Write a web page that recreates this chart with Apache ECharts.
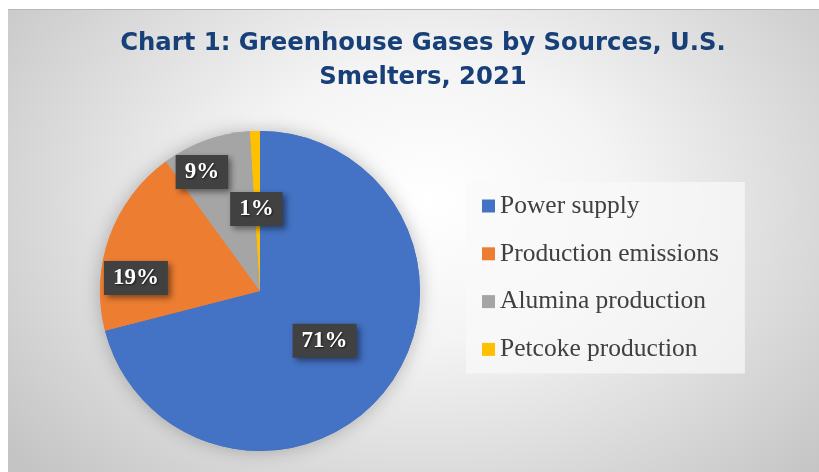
<!DOCTYPE html>
<html>
<head>
<meta charset="utf-8">
<script src="https://cdn.jsdelivr.net/npm/echarts@6/dist/echarts.min.js"></script>
<style>
  html, body { margin: 0; padding: 0; background: #ffffff; }
  #wrap { position: absolute; left: 8px; top: 9px; width: 811px; height: 463px;
    border-top: 1px solid #b8b8b8; box-sizing: border-box;
    background: radial-gradient(ellipse 540px 400px at 420px 190px, #ffffff 0%, #f4f4f4 35%, #c4c4c4 100%); }
  #chart { position: absolute; left: 0; top: -1px; width: 811px; height: 463px; }
</style>
</head>
<body>
<div id="wrap"><div id="chart"></div></div>
<script>
// ---- data ----
const categories = ['Power supply', 'Production emissions', 'Alumina production', 'Petcoke production'];
const values = [71, 19, 9, 1];
const colors = ['#4472C4', '#ED7D31', '#A5A5A5', '#FFC000'];
// label nudges (style, not data)
const labelShift = [[-1, -1], [-46, 15], [-30, -41], [-1, 1]];

const chart = echarts.init(document.getElementById('chart'), null, { renderer: 'canvas' });
const pieData = categories.map((c, i) => ({ name: c, value: values[i], itemStyle: { color: colors[i] } }));

chart.setOption({
  backgroundColor: 'transparent',
  animation: false,
  title: {
    text: 'Chart 1: Greenhouse Gases by Sources, U.S.\nSmelters, 2021',
    left: 410, top: 13, textAlign: 'center',
    textStyle: { fontFamily: 'DejaVu Sans', fontWeight: 'bold', fontSize: 24.3, lineHeight: 34, color: '#173F78' }
  },
  legend: {
    orient: 'vertical', left: 458, top: 173,
    itemWidth: 13, itemHeight: 13, itemGap: 21.8, icon: 'rect',
    padding: [11, 26, 11, 16],
    backgroundColor: 'rgba(250,250,250,0.7)',
    textStyle: { fontFamily: 'Liberation Serif', fontSize: 25.5, lineHeight: 24, color: '#404040' },
    data: categories
  },
  series: [
    {
      type: 'pie', silent: true, center: [252, 282], radius: 160, startAngle: 90,
      data: pieData, label: { show: false }, labelLine: { show: false },
      itemStyle: { shadowBlur: 18, shadowColor: 'rgba(0,0,0,0.25)' }
    },
    {
      type: 'pie', center: [252, 282], radius: 160, startAngle: 90,
      data: pieData,
      label: {
        show: true, position: 'inside',
        formatter: p => p.value + '%',
        fontFamily: 'Liberation Serif', fontWeight: 'bold', fontSize: 23, lineHeight: 23, color: '#ffffff',
        textShadowColor: 'rgba(0,0,0,0.6)', textShadowBlur: 2, textShadowOffsetX: 1, textShadowOffsetY: 1,
        backgroundColor: '#414141', padding: [6, 9, 5, 9],
        shadowColor: 'rgba(0,0,0,0.45)', shadowBlur: 6, shadowOffsetX: 3, shadowOffsetY: 3
      },
      labelLine: { show: false },
      labelLayout: p => ({ dx: labelShift[p.dataIndex][0], dy: labelShift[p.dataIndex][1] })
    }
  ]
});
</script>
</body>
</html>
